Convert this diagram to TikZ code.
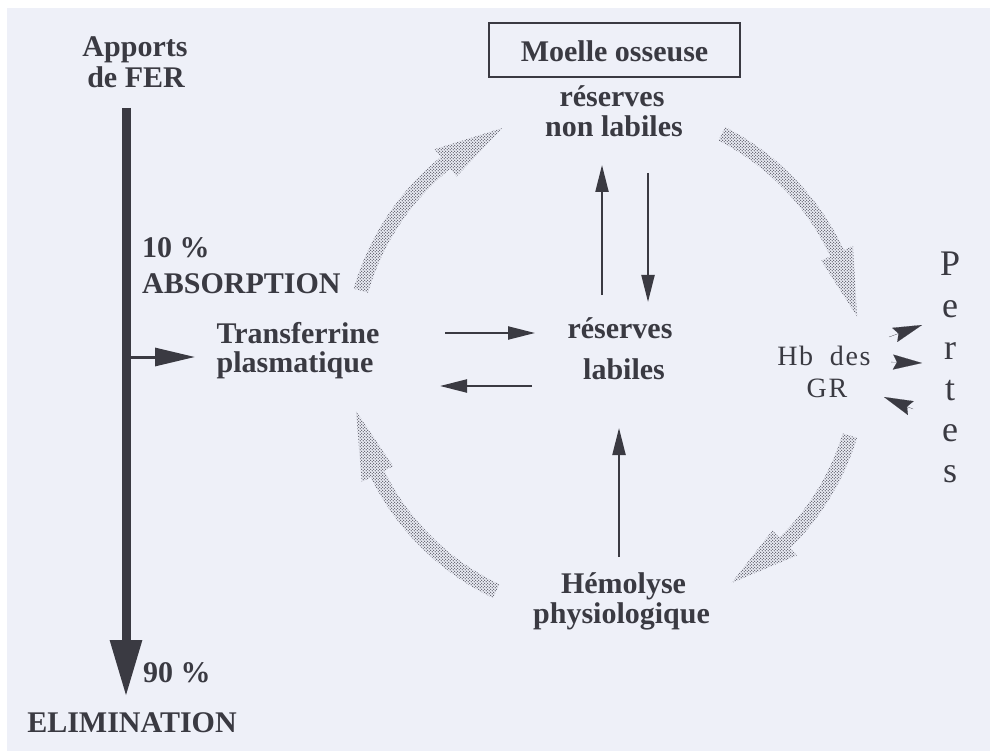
\documentclass[tikz,border=0pt]{standalone}
\usepackage{fontspec}
\setmainfont{Liberation Serif}
\usetikzlibrary{arrows.meta,patterns.meta}
\definecolor{bg}{HTML}{EEF0F8}
\definecolor{ink}{HTML}{3A3A42}
\definecolor{dotcol}{HTML}{5E5E6A}
\tikzdeclarepattern{
  name=stipple,
  type=uncolored,
  bounding box={(-0.85pt,-0.85pt) and (2.55pt,2.55pt)},
  tile size={(3.4pt,3.4pt)},
  code={
    \fill (0pt,0pt) circle [radius=0.85pt];
    \fill (1.7pt,1.7pt) circle [radius=0.85pt];
  }
}
% curved stippled arrow on the ring: #1 start angle, #2 tip angle (screen angles)
\newcommand\ringarrow[2]{%
  \pgfmathsetmacro\hA{#2-15}%
  \fill[ringfill]
    plot[domain=0:1, samples=25, variable=\t]
      ({606+262.5*cos(#1+(\hA-#1)*\t)},{361+262.5*sin(#1+(\hA-#1)*\t)})
    -- ({606+272.5*cos(\hA)},{361+272.5*sin(\hA)})
    -- ({606+255*cos(#2)},{361+255*sin(#2)})
    -- ({606+237.5*cos(\hA)},{361+237.5*sin(\hA)})
    -- plot[domain=0:1, samples=25, variable=\t]
      ({606+247.5*cos(\hA+(#1-\hA)*\t)},{361+247.5*sin(\hA+(#1-\hA)*\t)})
    -- cycle;}
\begin{document}
\begin{tikzpicture}[x=1pt,y=-1pt,
  lbl/.style={font=\fontsize{30}{34}\selectfont\bfseries, text=ink, inner sep=0pt, anchor=base},
  reg/.style={font=\fontsize{28}{32}\selectfont\addfontfeature{LetterSpace=6}, text=ink, inner sep=0pt, anchor=base},
  pert/.style={font=\fontsize{36}{40}\selectfont, text=ink, inner sep=0pt, anchor=base},
  finearrow/.style={draw=ink, line width=2.2pt, -{Triangle[length=27pt,width=13pt]}},
  smallhead/.style={draw=ink, fill=ink, line width=0.1pt, -{Stealth[length=29pt,width=15pt,inset=4pt]}},
  ringfill/.style={pattern={stipple}, pattern color=dotcol}]
\useasboundingbox (0,0) rectangle (990,751);
\fill[white] (0,0) rectangle (990,751);
\fill[bg] (7,8) rectangle (990,751);

% left column
\node[lbl] (app1) at (135,57) {Apports};
\node[lbl] (app2) at (136,88) {de FER};
\coordinate (ftop) at (126,108);
\coordinate (fbot) at (126,697);
\draw[ink, line width=9pt, -{Triangle[length=57pt,width=30pt]}] (ftop) -- (fbot);
\node[lbl, anchor=base west] (pct10) at (142,258) {10 \%};
\node[lbl, anchor=base west] (absorb) at (142,294) {ABSORPTION};
\coordinate (branch) at (126,357);
\coordinate (btip) at (195,357);
\draw[ink, line width=3pt, -{Triangle[length=40pt,width=18pt]}] (branch) -- (btip);
\node[lbl] (trans1) at (298,343) {Transferrine};
\node[lbl] (trans2) at (295,372) {plasmatique};
\node[lbl, anchor=base west] (pct90) at (143,682) {90 \%};
\node[lbl] (elim) at (132,732) {ELIMINATION};

% bone marrow
\node[lbl, draw=ink, line width=1.5pt, anchor=center, minimum width=251pt, minimum height=54pt,
      text height=24pt, text depth=0pt] (moelle) at (614.5,50) {Moelle osseuse};
\node[lbl] (nl1) at (612,107) {réserves};
\node[lbl] (nl2) at (614,137) {non labiles};
\node[lbl] (lab1) at (620,338) {réserves};
\node[lbl] (lab2) at (624,379) {labiles};

\coordinate (upA) at (602,295);
\coordinate (upB) at (602,165);
\coordinate (dnA) at (648,173);
\coordinate (dnB) at (648,302);
\draw[finearrow] (upA) -- (upB);
\draw[finearrow] (dnA) -- (dnB);
\coordinate (rA) at (445,333);
\coordinate (rB) at (535,333);
\coordinate (lA) at (532,386);
\coordinate (lB) at (440,386);
\draw[finearrow] (rA) -- (rB);
\draw[finearrow] (lA) -- (lB);

% hemolysis
\node[lbl] (hem1) at (623.5,593) {Hémolyse};
\node[lbl] (hem2) at (621.5,623) {physiologique};
\coordinate (hA) at (619,557);
\coordinate (hB) at (619,428);
\draw[finearrow] (hA) -- (hB);

% Hb des GR and losses
\node[reg] (hb1) at (824,365) {Hb\hspace{8pt} des};
\node[reg] (hb2) at (827,397) {GR};
\foreach \ch/\yy [count=\i] in {P/276,e/317,r/359,t/400,e/441,s/482}
  \node[pert] (pertes\i) at (950,\yy) {\ch};
\coordinate (s1a) at (889,337);
\coordinate (s1b) at (922,325);
\coordinate (s2a) at (891,362);
\coordinate (s2b) at (922,363);
\coordinate (s3a) at (913,409);
\coordinate (s3b) at (884,397);
\draw[smallhead] (s1a) -- (s1b);
\draw[smallhead] (s2a) -- (s2b);
\draw[smallhead] (s3a) -- (s3b);

% stippled cycle arrows
\ringarrow{196}{246}
\ringarrow{297}{350}
\ringarrow{17}{60.5}
\ringarrow{115.5}{168.7}
\end{tikzpicture}
\end{document}
